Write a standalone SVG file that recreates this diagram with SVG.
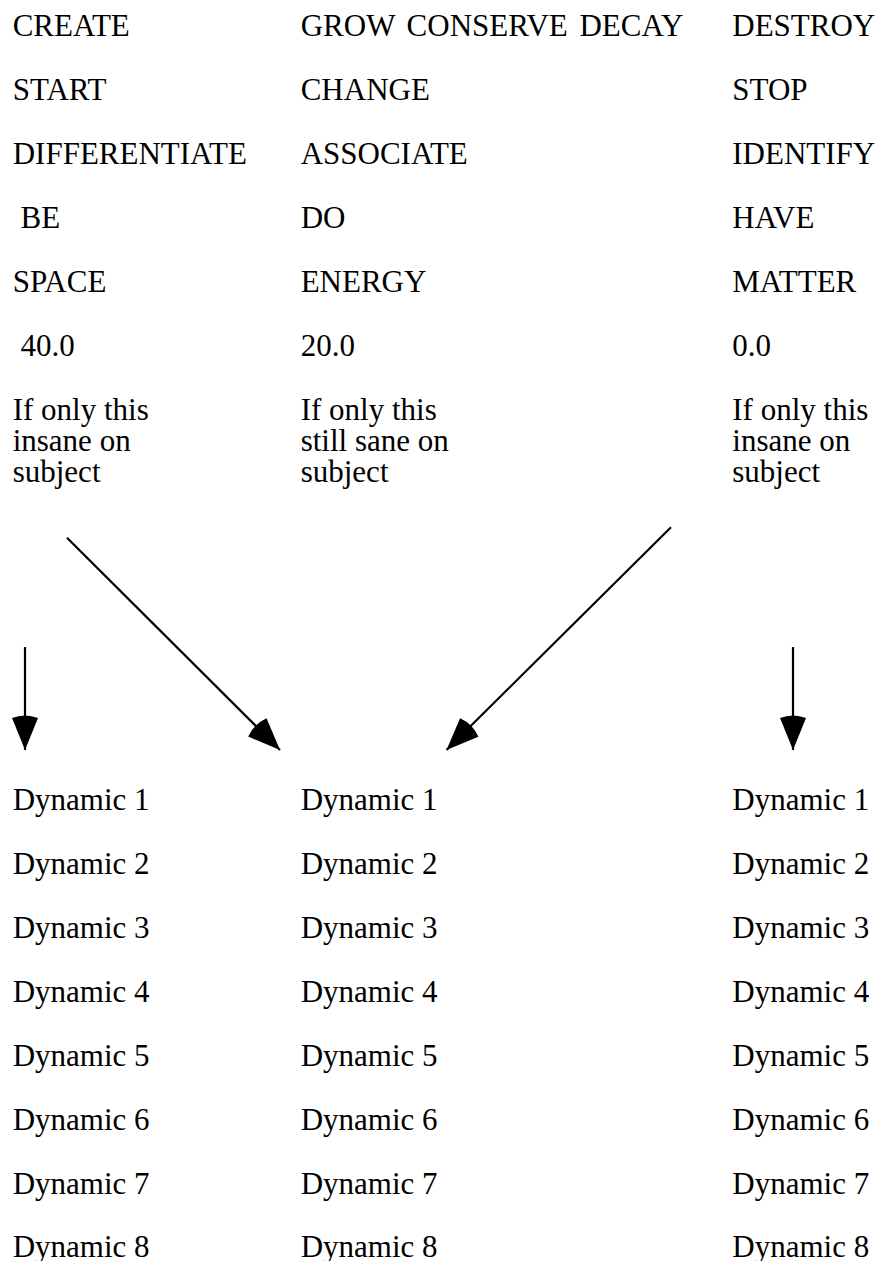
<svg xmlns="http://www.w3.org/2000/svg" width="877" height="1261" viewBox="0 0 877 1261">
<defs>
<style>
text{font-family:"Liberation Serif","Times New Roman",serif;font-size:31px;fill:#000}
.c{stroke:#000;stroke-width:2.2;fill:none}
</style>
<marker id="ah" markerUnits="userSpaceOnUse" markerWidth="40" markerHeight="30" viewBox="-38 -15 40 30" refX="0" refY="0" orient="auto">
<path d="M0,0 L-32,-13 Q-37,0 -32,13 Z" fill="#000"/>
</marker>
</defs>
<rect width="877" height="1261" fill="#fff"/>
<g id="col-left">
<text x="12.7" y="36">CREATE</text>
<text x="12.7" y="100">START</text>
<text x="12.7" y="164">DIFFERENTIATE</text>
<text x="20.5" y="228">BE</text>
<text x="12.7" y="292">SPACE</text>
<text x="20.5" y="356">40.0</text>
<text x="12.7" y="420">If only this</text>
<text x="12.7" y="451">insane on</text>
<text x="12.7" y="482">subject</text>
</g>
<g id="col-middle">
<text x="300.7" y="36" word-spacing="4">GROW CONSERVE DECAY</text>
<text x="300.7" y="100">CHANGE</text>
<text x="300.7" y="164">ASSOCIATE</text>
<text x="300.7" y="228">DO</text>
<text x="300.7" y="292">ENERGY</text>
<text x="300.7" y="356">20.0</text>
<text x="300.7" y="420">If only this</text>
<text x="300.7" y="451">still sane on</text>
<text x="300.7" y="482">subject</text>
</g>
<g id="col-right">
<text x="732.3" y="36">DESTROY</text>
<text x="732.3" y="100">STOP</text>
<text x="732.3" y="164">IDENTIFY</text>
<text x="732.3" y="228">HAVE</text>
<text x="732.3" y="292">MATTER</text>
<text x="732.3" y="356">0.0</text>
<text x="732.3" y="420">If only this</text>
<text x="732.3" y="451">insane on</text>
<text x="732.3" y="482">subject</text>
</g>
<g id="connectors">
<line class="c" x1="25" y1="647" x2="25" y2="750" marker-end="url(#ah)"/>
<line class="c" x1="67" y1="537.7" x2="280" y2="750" marker-end="url(#ah)"/>
<line class="c" x1="671" y1="527.3" x2="446.5" y2="750" marker-end="url(#ah)"/>
<line class="c" x1="793" y1="647" x2="793" y2="750" marker-end="url(#ah)"/>
</g>
<g id="dyn-left">
<text x="12.7" y="810">Dynamic 1</text>
<text x="12.7" y="874">Dynamic 2</text>
<text x="12.7" y="938">Dynamic 3</text>
<text x="12.7" y="1002">Dynamic 4</text>
<text x="12.7" y="1066">Dynamic 5</text>
<text x="12.7" y="1130">Dynamic 6</text>
<text x="12.7" y="1194">Dynamic 7</text>
<text x="12.7" y="1257">Dynamic 8</text>
</g>
<g id="dyn-middle">
<text x="300.7" y="810">Dynamic 1</text>
<text x="300.7" y="874">Dynamic 2</text>
<text x="300.7" y="938">Dynamic 3</text>
<text x="300.7" y="1002">Dynamic 4</text>
<text x="300.7" y="1066">Dynamic 5</text>
<text x="300.7" y="1130">Dynamic 6</text>
<text x="300.7" y="1194">Dynamic 7</text>
<text x="300.7" y="1257">Dynamic 8</text>
</g>
<g id="dyn-right">
<text x="732.3" y="810">Dynamic 1</text>
<text x="732.3" y="874">Dynamic 2</text>
<text x="732.3" y="938">Dynamic 3</text>
<text x="732.3" y="1002">Dynamic 4</text>
<text x="732.3" y="1066">Dynamic 5</text>
<text x="732.3" y="1130">Dynamic 6</text>
<text x="732.3" y="1194">Dynamic 7</text>
<text x="732.3" y="1257">Dynamic 8</text>
</g>
</svg>
